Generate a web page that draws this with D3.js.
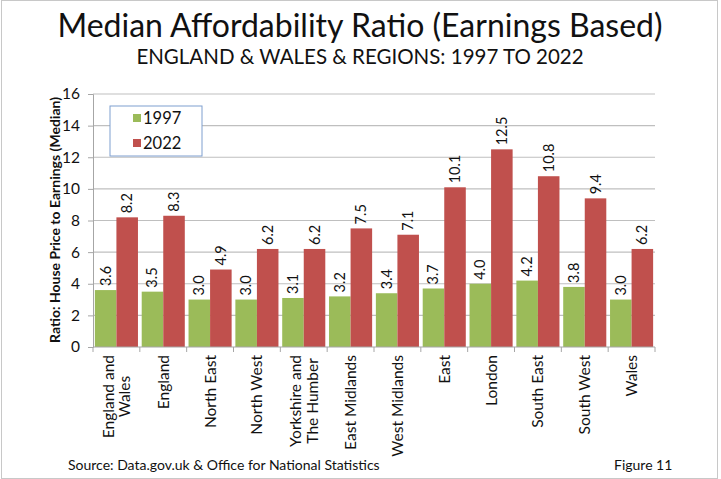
<!DOCTYPE html>
<html><head><meta charset="utf-8">
<script src="https://cdn.jsdelivr.net/npm/d3@7"></script>
<style>body{margin:0;background:#fff}svg{display:block}text{font-family:Lato,"Open Sans",sans-serif}</style>
</head><body>
<script>
const categories = [["England and","Wales"],["England"],["North East"],["North West"],["Yorkshire and","The Humber"],["East Midlands"],["West Midlands"],["East"],["London"],["South East"],["South West"],["Wales"]];
const values1997 = [3.6,3.5,3.0,3.0,3.1,3.2,3.4,3.7,4.0,4.2,3.8,3.0];
const values2022 = [8.2,8.3,4.9,6.2,6.2,7.5,7.1,10.1,12.5,10.8,9.4,6.2];
const seriesNames = ["1997","2022"];
const yTicks = [0,2,4,6,8,10,12,14,16];

const W=721,H=479;
const svg=d3.select("body").append("svg").attr("width",W).attr("height",H);
svg.append("rect").attr("x",1.5).attr("y",0.5).attr("width",716).attr("height",H-1).attr("fill","#fff").attr("stroke","#c8c8c8");

const m={l:93,r:655,t:94,b:347};
const x=d3.scaleBand().domain(d3.range(categories.length)).range([m.l,m.r]).paddingInner(0.08).paddingOuter(0.04);
const xs=d3.scaleBand().domain([0,1]).range([0,x.bandwidth()]);
const y=d3.scaleLinear().domain([0,16]).range([m.b,m.t]);
const colors=["#9BBB59","#C0504D"];

svg.append("text").attr("x",360).attr("y",37).attr("text-anchor","middle").attr("font-size",32).attr("fill","#111").text("Median Affordability Ratio (Earnings Based)");
svg.append("text").attr("x",360).attr("y",64).attr("text-anchor","middle").attr("font-size",20.5).attr("fill","#111").text("ENGLAND & WALES & REGIONS: 1997 TO 2022");

// grid
svg.append("g").selectAll("line").data(yTicks.slice(1)).join("line")
 .attr("x1",m.l).attr("x2",m.r).attr("y1",d=>y(d)).attr("y2",d=>y(d)).attr("stroke","#bfbfbf").attr("stroke-width",1.2);

// y axis
const ya=svg.append("g").attr("transform",`translate(${m.l},0)`).call(d3.axisLeft(y).tickValues(yTicks).tickSize(5).tickPadding(8));
ya.select(".domain").attr("stroke","#a6a6a6");
ya.selectAll(".tick line").attr("stroke","#a6a6a6");
ya.selectAll(".tick text").attr("font-size",15.5).attr("fill","#111").attr("font-family","Lato");

// bars
const groups=svg.append("g").selectAll("g").data(categories.map((c,i)=>i)).join("g").attr("transform",i=>`translate(${x(i)},0)`);
[values1997,values2022].forEach((vals,s)=>{
 groups.append("rect").attr("x",xs(s)).attr("width",xs.bandwidth()).attr("y",i=>y(vals[i])).attr("height",i=>y(0)-y(vals[i])).attr("fill",colors[s]);
 groups.append("text").attr("transform",i=>`translate(${xs(s)+xs.bandwidth()/2+5},${y(vals[i])-4}) rotate(-90)`)
  .attr("font-size",14.5).attr("fill","#111").text(i=>vals[i].toFixed(1));
});

// x axis
const xa=svg.append("g").attr("transform",`translate(0,${m.b})`);
xa.append("line").attr("x1",m.l).attr("x2",m.r).attr("stroke","#a6a6a6");
const step=(m.r-m.l)/categories.length;
xa.selectAll("line.t").data(d3.range(categories.length+1)).join("line").attr("class","t")
 .attr("x1",i=>m.l+i*step).attr("x2",i=>m.l+i*step).attr("y1",0).attr("y2",5).attr("stroke","#a6a6a6");
const lab=xa.selectAll("text").data(categories).join("text")
 .attr("transform",(c,i)=>`translate(${x(i)+x.bandwidth()/2},8) rotate(-90)`)
 .attr("font-size",15.5).attr("fill","#111");
lab.each(function(c){
 const t=d3.select(this);
 const n=c.length;
 c.forEach((line,k)=>{
  t.append("tspan").attr("x",0).attr("y",(k-(n-1)/2)*16.5+5.5).attr("text-anchor","middle").text(line);
 });
});
lab.each(function(c){
 const t=d3.select(this);
 const w=d3.max(t.selectAll("tspan").nodes(),n=>n.getComputedTextLength());
 t.selectAll("tspan").attr("x",-w/2);
});

// y label
svg.append("text").attr("transform","translate(60,220) rotate(-90)").attr("text-anchor","middle")
 .attr("font-size",14).attr("font-weight","bold").attr("fill","#111").text("Ratio: House Price to Earnings (Median)");

// legend
const lg=svg.append("g");
lg.append("rect").attr("x",110).attr("y",106).attr("width",92).attr("height",50).attr("fill","#fff").attr("stroke","#7f9fcf");
seriesNames.forEach((s,k)=>{
 lg.append("rect").attr("x",133).attr("y",114+k*25).attr("width",8).attr("height",8).attr("fill",colors[k]);
 lg.append("text").attr("x",143).attr("y",124+k*25).attr("font-size",16.5).attr("fill","#111").text(s);
});

svg.append("text").attr("x",68).attr("y",470).attr("font-size",14).attr("fill","#111").text("Source: Data.gov.uk & Office for National Statistics");
svg.append("text").attr("x",614).attr("y",470).attr("font-size",14).attr("fill","#111").text("Figure 11");
</script>
</body></html>
